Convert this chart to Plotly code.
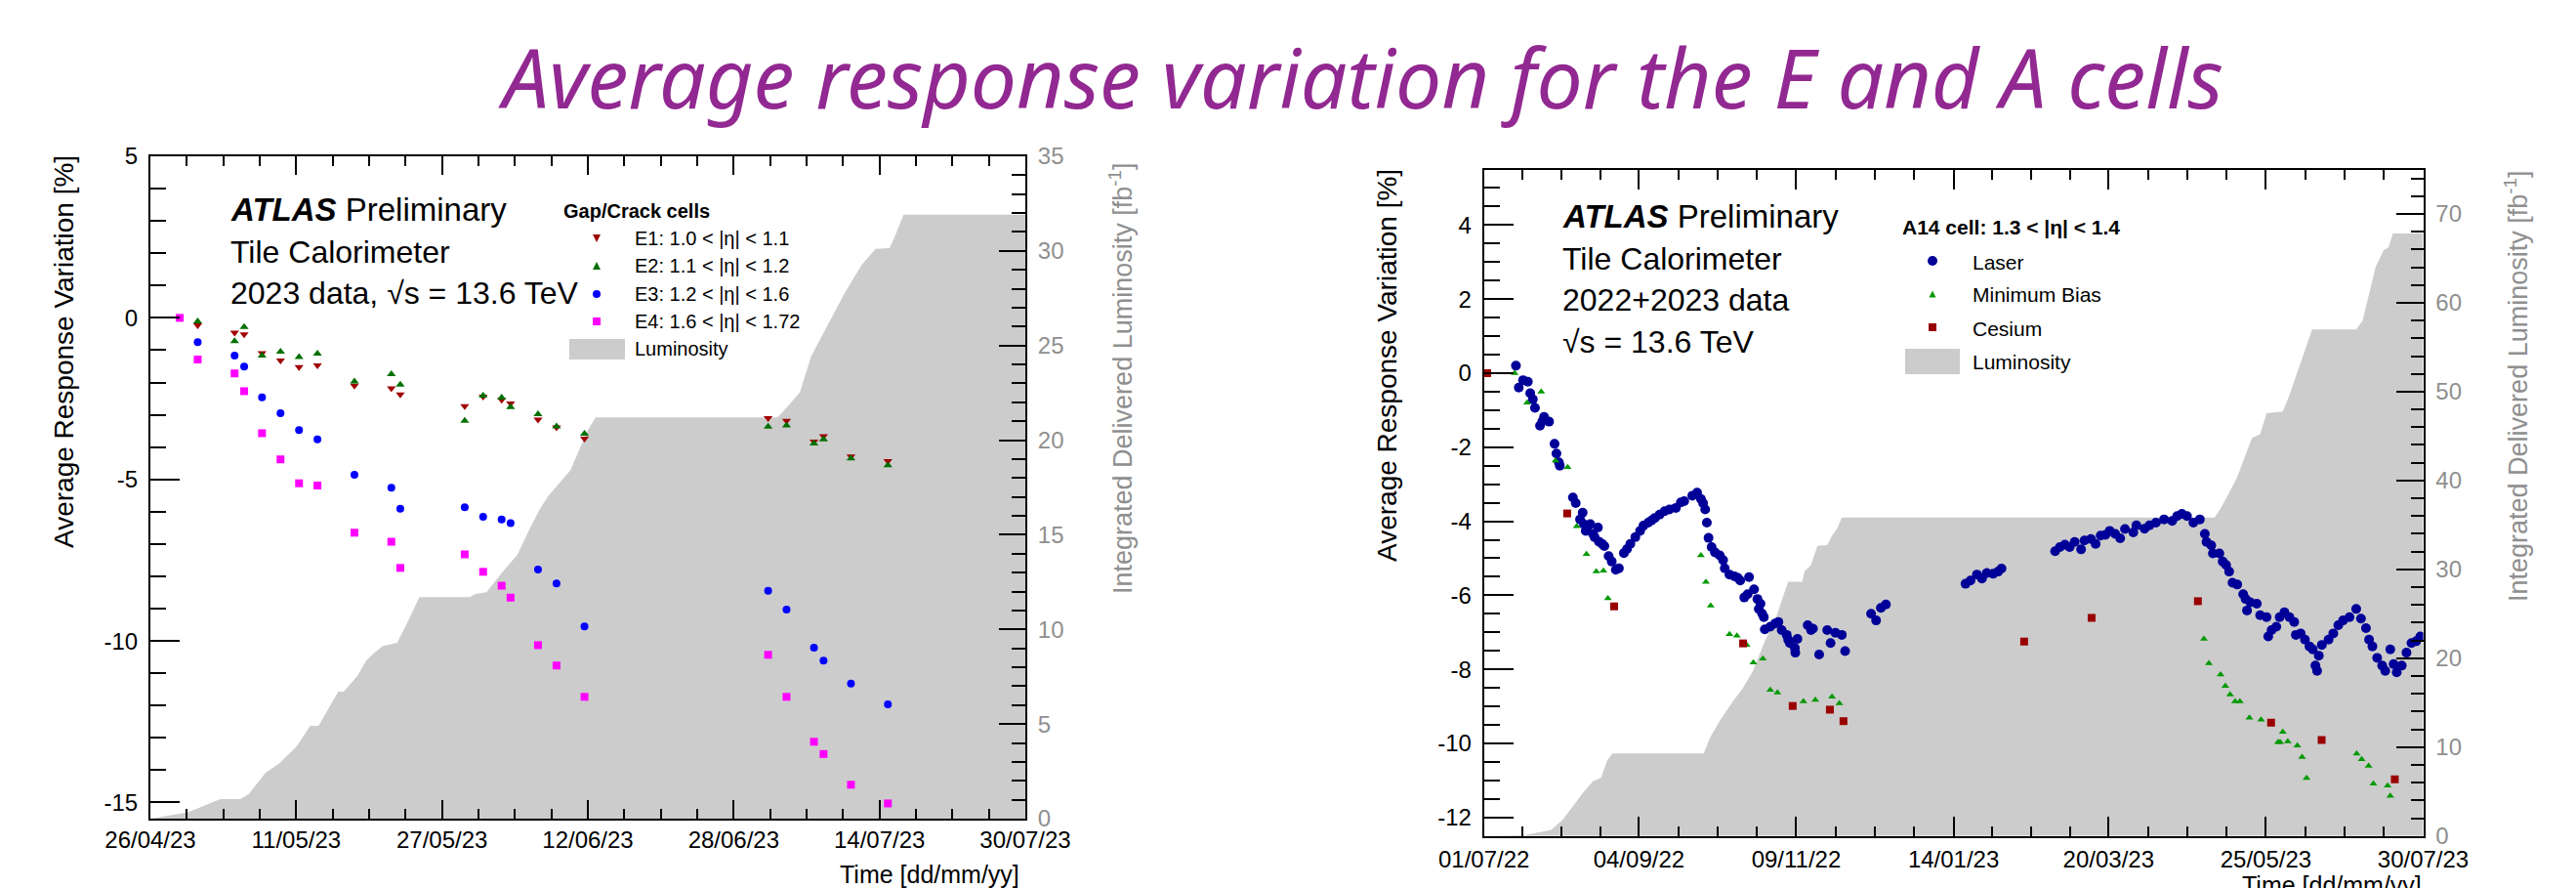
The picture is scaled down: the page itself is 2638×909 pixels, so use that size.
import plotly.graph_objects as go
import pandas as pd

W, H = 2638, 909
FONT = "Liberation Sans, Arial, Helvetica, sans-serif"
GREY = "#8f8f8f"

# ======================= LEFT PANEL DATA (E cells, 2023) =======================
# x: days since 2023-04-25 12:00 (left edge of the time axis)
left_t0 = "2023-04-25 12:00"
e_days = [5.19, 9.24, 10.29, 12.25, 14.28, 16.31, 18.33, 22.39, 26.44, 27.42,
          34.49, 36.51, 38.54, 39.52, 42.53, 44.56, 47.63, 67.78, 69.80, 72.81,
          73.86, 76.87, 80.92]
e1_resp = [-0.23, -0.46, -0.51, -1.09, -1.32, -1.52, -1.47, -2.10, -2.18, -2.37,
           -2.73, -2.44, -2.54, -2.65, -3.15, -3.39, -3.74, -3.10, -3.19, -3.83,
           -3.66, -4.29, -4.43]
e2_resp = [-0.11, -0.72, -0.28, -1.17, -1.05, -1.21, -1.11, -1.97, -1.74, -2.07,
           -3.19, -2.41, -2.47, -2.76, -2.98, -3.36, -3.59, -3.37, -3.33, -3.89,
           -3.76, -4.35, -4.56]
e3_resp = [-0.75, -1.17, -1.51, -2.46, -2.95, -3.47, -3.76, -4.86, -5.26, -5.91,
           -5.86, -6.16, -6.24, -6.35, -7.79, -8.22, -9.55, -8.45, -9.03, -10.21,
           -10.61, -11.32, -11.96]
e4_days = [3.22, 5.19, 9.24, 10.29, 12.25, 14.28, 16.31, 18.33, 22.39, 26.44,
           27.42, 34.49, 36.51, 38.54, 39.52, 42.53, 44.56, 47.63, 67.78, 69.80,
           72.81, 73.86, 76.87, 80.92]
e4_resp = [0.0, -1.29, -1.72, -2.27, -3.57, -4.38, -5.12, -5.19, -6.65, -6.93,
           -7.74, -7.32, -7.86, -8.29, -8.66, -10.13, -10.76, -11.73, -10.43, -11.73,
           -13.12, -13.50, -14.45, -15.03]
left_lumi_days = [0.0, 1.26, 4.15, 6.79, 7.71, 9.86, 10.78, 12.62, 14.16, 16.0,
                  17.54, 18.46, 19.38, 20.61, 21.22, 22.76, 23.68, 24.6, 25.52, 27.06,
                  27.98, 29.51, 35.04, 35.65, 36.88, 38.72, 40.26, 41.5, 42.72, 43.64,
                  46.1, 47.94, 48.86, 68.82, 70.05, 71.28, 72.51, 76.19, 78.04, 79.57,
                  81.11, 81.72, 82.64, 96.0]
left_lumi = [0.0, 0.1, 0.34, 0.86, 1.03, 1.03, 1.29, 2.41, 2.93, 3.79,
             4.9, 4.9, 5.68, 6.71, 6.71, 7.57, 8.35, 8.78, 9.12, 9.29,
             10.15, 11.7, 11.7, 11.87, 11.96, 13.08, 13.94, 15.2, 16.35, 17.04,
             18.41, 20.48, 21.2, 21.2, 21.85, 22.54, 24.44, 27.79, 29.26, 30.11,
             30.15, 30.8, 31.92, 31.92]
left_tick_labels = ["26/04/23", "11/05/23", "27/05/23", "12/06/23", "28/06/23", "14/07/23", "30/07/23"]
left_tick_days = [0, 16, 32, 48, 64, 80, 96]

# ======================= RIGHT PANEL DATA (A14 cell, 2022+2023) =======================
# x: days since 2022-07-01
right_t0 = "2022-07-01"
laser_days = [13.4, 14.6, 16.4, 18.4, 19.4, 20.5, 21.4, 23.5, 24.5, 25.2,
              27.3, 29.6, 30.4, 31.4, 31.8, 37.3, 38.5, 40.3, 41.4, 41.9,
              42.7, 43.7, 44.6, 45.7, 46.4, 47.8, 48.2, 49.6, 50.5, 52.3,
              53.6, 55.3, 56.6, 58.7, 60.0, 61.4, 63.5, 65.5, 66.9, 68.9,
              70.3, 71.7, 73.7, 75.8, 77.8, 80.5, 82.6, 84.0, 87.4, 89.4,
              91.0, 91.9, 92.8, 93.5, 94.2, 95.5, 96.9, 98.9, 100.3, 101.0,
              103.0, 105.1, 106.5, 107.5, 109.2, 110.6, 111.2, 113.3, 114.7, 115.3,
              116.0, 116.7, 117.4, 117.8, 120.1, 122.2, 123.5, 124.9, 127.0, 127.6,
              128.3, 130.4, 130.6, 131.5, 135.8, 137.2, 138.0, 140.6, 144.0, 145.4,
              147.4, 150.1, 151.5, 162.4, 164.5, 166.5, 168.6, 202.0, 204.1, 206.8,
              208.9, 210.9, 213.6, 215.7, 217.1, 239.6, 241.6, 243.7, 245.7, 247.8,
              250.5, 251.9, 254.6, 256.6, 258.7, 260.7, 262.5, 264.8, 266.9, 268.9,
              272.4, 273.7, 277.1, 279.2, 281.9, 285.3, 288.7, 290.8, 292.8, 294.9,
              297.6, 300.3, 302.4, 303.1, 305.1, 305.8, 308.5, 309.9, 311.3, 312.6,
              314.0, 316.0, 318.5, 319.5, 320.1, 321.5, 324.2, 325.6, 328.3, 329.0,
              330.4, 332.4, 333.8, 335.8, 337.9, 339.9, 340.6, 342.6, 344.4, 346.3,
              347.7, 348.8, 349.5, 350.2, 351.5, 354.3, 356.3, 358.4, 360.4, 363.1,
              365.9, 367.9, 370.0, 371.3, 372.7, 374.7, 376.8, 378.1, 380.2, 381.6,
              382.9, 385.0, 387.0, 389.1, 391.1, 392.8]
laser_resp = [0.20, -0.39, -0.19, -0.23, -0.54, -0.71, -0.94, -1.42, -1.30, -1.18,
              -1.31, -1.91, -2.17, -2.41, -2.50, -3.36, -3.51, -3.95, -3.77, -4.08,
              -4.26, -4.12, -4.08, -4.34, -4.43, -4.17, -4.55, -4.61, -4.67, -4.94,
              -5.09, -5.31, -5.27, -4.86, -4.75, -4.61, -4.43, -4.26, -4.12, -4.04,
              -3.98, -3.91, -3.82, -3.73, -3.68, -3.64, -3.49, -3.46, -3.31, -3.23,
              -3.40, -3.51, -3.68, -4.04, -4.45, -4.70, -4.84, -4.92, -5.05, -5.27,
              -5.44, -5.49, -5.53, -5.60, -6.06, -5.97, -5.51, -5.84, -6.10, -6.37,
              -6.23, -6.50, -6.59, -6.92, -6.85, -6.76, -6.72, -6.94, -7.07, -7.20,
              -7.29, -7.42, -7.55, -7.18, -6.81, -6.94, -6.90, -7.60, -6.94, -7.29,
              -7.01, -7.07, -7.51, -6.50, -6.68, -6.34, -6.25, -5.69, -5.60, -5.44,
              -5.55, -5.40, -5.42, -5.36, -5.28, -4.81, -4.70, -4.63, -4.70, -4.56,
              -4.76, -4.52, -4.48, -4.61, -4.39, -4.37, -4.26, -4.34, -4.46, -4.21,
              -4.30, -4.11, -4.20, -4.11, -4.04, -3.95, -3.99, -3.86, -3.80, -3.86,
              -4.04, -3.95, -4.34, -4.56, -4.65, -4.87, -4.87, -5.09, -5.18, -5.36,
              -5.66, -5.71, -5.97, -6.10, -6.41, -6.19, -6.23, -6.54, -6.59, -7.11,
              -6.94, -6.85, -6.59, -6.46, -6.59, -6.72, -7.07, -7.03, -7.20, -7.38,
              -7.46, -7.90, -8.04, -7.63, -7.34, -7.20, -7.03, -6.81, -6.68, -6.59,
              -6.37, -6.63, -6.89, -7.20, -7.38, -7.69, -7.90, -8.04, -7.46, -7.86,
              -8.08, -7.90, -7.55, -7.29, -7.24, -7.11]
minbias_days = [12.9, 18.1, 24.0, 30.0, 35.1, 38.9, 43.0, 47.1, 50.1, 52.0,
                91.0, 93.1, 95.1, 103.0, 106.1, 110.2, 113.0, 117.0, 120.1, 123.1,
                134.0, 139.0, 146.0, 149.1, 302.0, 304.1, 309.0, 311.0, 313.0, 315.1,
                317.1, 321.1, 326.0, 333.1, 334.0, 335.1, 337.2, 341.2, 343.2, 345.1,
                366.1, 368.2, 371.1, 373.1, 379.1, 380.2]
minbias_resp = [0.0, -0.80, -0.50, -2.36, -2.54, -4.14, -4.89, -5.36, -5.34, -6.08,
                -4.92, -5.64, -6.28, -7.05, -7.09, -7.34, -7.82, -7.71, -8.56, -8.63,
                -8.87, -8.83, -8.74, -8.92, -7.18, -7.84, -8.14, -8.45, -8.68, -8.87,
                -8.87, -9.31, -9.36, -9.97, -9.97, -9.69, -9.95, -10.06, -10.37, -10.94,
                -10.28, -10.43, -10.61, -11.09, -11.14, -11.42]
cesium_days = [1.35, 34.9, 54.6, 108.7, 129.5, 145.1, 150.8, 226.6, 254.9, 299.5,
               330.2, 351.4, 382.1]
cesium_resp = [0.0, -3.79, -6.30, -7.30, -8.99, -9.09, -9.40, -7.25, -6.61, -6.16,
               -9.44, -9.91, -10.97]
right_lumi_days = [0.0, 17.0, 28.0, 32.8, 37.5, 41.6, 45.7, 49.1, 51.8, 53.9,
                   92.2, 94.9, 98.9, 104.4, 108.5, 112.6, 118.1, 122.2, 124.9, 127.6,
                   133.5, 134.5, 137.2, 139.9, 144.0, 146.1, 148.1, 150.1, 306.5, 309.2,
                   313.3, 316.0, 318.8, 322.2, 325.6, 328.3, 335.1, 337.9, 342.6, 347.4,
                   365.9, 368.6, 370.6, 374.1, 377.4, 379.5, 381.3, 394.0]
right_lumi = [0.0, 0.1, 0.66, 1.76, 3.41, 4.88, 6.16, 6.53, 8.54, 9.28,
              9.28, 11.1, 12.94, 15.14, 16.6, 18.44, 22.1, 24.3, 26.5, 28.6,
              28.6, 29.8, 30.5, 32.65, 32.73, 33.83, 34.56, 35.84, 35.84, 36.94,
              38.96, 40.4, 42.4, 44.8, 45.2, 47.57, 47.76, 49.6, 53.25, 57.0,
              57.0, 58.0, 60.2, 64.06, 65.9, 66.26, 67.8, 67.8]
right_tick_labels = ["01/07/22", "04/09/22", "09/11/22", "14/01/23", "20/03/23", "25/05/23", "30/07/23"]
right_tick_dates = ["2022-07-01", "2022-09-04", "2022-11-09", "2023-01-14", "2023-03-20", "2023-05-25", "2023-07-30"]


def to_dates(t0, days):
    return pd.Timestamp(t0) + pd.to_timedelta(days, unit="D")


def minor_between(majors, n=3):
    out = []
    for a, b in zip(majors[:-1], majors[1:]):
        for k in range(1, n + 1):
            out.append(a + (b - a) * k / (n + 1))
    return out


left_major = list(to_dates(left_t0, left_tick_days))
left_minor = minor_between(left_major)
right_major = [pd.Timestamp(d) for d in right_tick_dates]
right_minor = minor_between(right_major)

fig = go.Figure()

# ---- luminosity fills (base axes, drawn beneath) ----
fig.add_trace(go.Scatter(x=to_dates(left_t0, left_lumi_days), y=left_lumi, mode="lines",
                         line=dict(width=0, color="#cccccc"), fill="tozeroy", fillcolor="#cccccc",
                         xaxis="x", yaxis="y", showlegend=False, hoverinfo="skip"))
fig.add_trace(go.Scatter(x=to_dates(right_t0, right_lumi_days), y=right_lumi, mode="lines",
                         line=dict(width=0, color="#cccccc"), fill="tozeroy", fillcolor="#cccccc",
                         xaxis="x2", yaxis="y3", showlegend=False, hoverinfo="skip"))

# ---- left markers ----
C_E1, C_E2, C_E3, C_E4 = "#a00000", "#007000", "#0000ff", "#ff00ff"
fig.add_trace(go.Scatter(x=to_dates(left_t0, e_days), y=e1_resp, mode="markers", xaxis="x", yaxis="y2",
                         marker=dict(symbol="triangle-down", size=8, color=C_E1), showlegend=False))
fig.add_trace(go.Scatter(x=to_dates(left_t0, e_days), y=e2_resp, mode="markers", xaxis="x", yaxis="y2",
                         marker=dict(symbol="triangle-up", size=8, color=C_E2), showlegend=False))
fig.add_trace(go.Scatter(x=to_dates(left_t0, e_days), y=e3_resp, mode="markers", xaxis="x", yaxis="y2",
                         marker=dict(symbol="circle", size=8, color=C_E3), showlegend=False))
fig.add_trace(go.Scatter(x=to_dates(left_t0, e4_days), y=e4_resp, mode="markers", xaxis="x", yaxis="y2",
                         marker=dict(symbol="square", size=8, color=C_E4), showlegend=False))

# ---- right markers ----
C_LAS, C_MB, C_CS = "#000099", "#009900", "#990000"
fig.add_trace(go.Scatter(x=to_dates(right_t0, laser_days), y=laser_resp, mode="markers", xaxis="x2", yaxis="y4",
                         marker=dict(symbol="circle", size=10, color=C_LAS), showlegend=False))
fig.add_trace(go.Scatter(x=to_dates(right_t0, minbias_days), y=minbias_resp, mode="markers", xaxis="x2", yaxis="y4",
                         marker=dict(symbol="triangle-up", size=7, color=C_MB), showlegend=False))
fig.add_trace(go.Scatter(x=to_dates(right_t0, cesium_days), y=cesium_resp, mode="markers", xaxis="x2", yaxis="y4",
                         marker=dict(symbol="square", size=8, color=C_CS), showlegend=False))


def px(X):
    return X / W


def py(Y):
    return 1 - Y / H


base = dict(showline=True, linecolor="black", linewidth=2, ticks="inside", tickcolor="black",
            tickwidth=1.5, showgrid=False, zeroline=False, fixedrange=True, automargin=False)


def minor(ticklen, **kw):
    d = dict(ticks="inside", ticklen=ticklen, tickcolor="black", tickwidth=1.5, showgrid=False)
    d.update(kw)
    return d


tickfont_black = dict(family=FONT, size=24, color="black")
tickfont_grey = dict(family=FONT, size=24, color=GREY)

layout = dict(
    width=W, height=H, autosize=False, margin=dict(l=0, r=0, t=0, b=0, pad=0),
    paper_bgcolor="white", plot_bgcolor="rgba(0,0,0,0)", showlegend=False,
    # left panel
    xaxis=dict(base, domain=[px(146), px(1042)], anchor="y", type="date",
               range=[left_major[0], left_major[-1]], tickmode="array",
               tickvals=left_major, ticktext=left_tick_labels, ticklen=19, mirror="ticks",
               minor=minor(10, tickmode="array", tickvals=left_minor),
               tickfont=tickfont_black, ticklabelstandoff=-1),
    yaxis=dict(base, domain=[py(830), py(152)], anchor="x", side="right", range=[0, 35],
               tickmode="array", tickvals=[0, 5, 10, 15, 20, 25, 30, 35],
               ticktext=["0", "5", "10", "15", "20", "25", "30", "35"], ticklen=27,
               minor=minor(14, tickmode="linear", tick0=0, dtick=1), tickfont=tickfont_grey,
               ticklabelstandoff=6),
    yaxis2=dict(base, overlaying="y", anchor="x", side="left", range=[-15.5, 5],
                tickmode="array", tickvals=[-15, -10, -5, 0, 5],
                ticktext=["-15", "-10", "-5", "0", "5"], ticklen=30,
                minor=minor(16, tickmode="linear", tick0=0, dtick=1), tickfont=tickfont_black,
                ticklabelstandoff=6),
    # right panel
    xaxis2=dict(base, domain=[px(1511.7), px(2473.5)], anchor="y3", type="date",
                range=[right_major[0], right_major[-1]], tickmode="array",
                tickvals=right_major, ticktext=right_tick_labels, ticklen=20, mirror="ticks",
                minor=minor(10, tickmode="array", tickvals=right_minor),
                tickfont=tickfont_black, ticklabelstandoff=1),
    yaxis3=dict(base, domain=[py(847.7), py(165.5)], anchor="x2", side="right", range=[0, 75],
                tickmode="array", tickvals=[0, 10, 20, 30, 40, 50, 60, 70],
                ticktext=["0", "10", "20", "30", "40", "50", "60", "70"], ticklen=28,
                minor=minor(13, tickmode="linear", tick0=0, dtick=2), tickfont=tickfont_grey,
                ticklabelstandoff=6),
    yaxis4=dict(base, overlaying="y3", anchor="x2", side="left", range=[-12.5, 5.5],
                tickmode="array", tickvals=[-12, -10, -8, -6, -4, -2, 0, 2, 4],
                ticktext=["-12", "-10", "-8", "-6", "-4", "-2", "0", "2", "4"], ticklen=30,
                minor=minor(16, tickmode="linear", tick0=0, dtick=0.5), tickfont=tickfont_black,
                ticklabelstandoff=6),
)
fig.update_layout(**layout)

ann = []


def text(X, Y, s, size, color="black", xanchor="left", angle=0, family=FONT, **fontkw):
    f = dict(family=family, size=size, color=color)
    f.update(fontkw)
    ann.append(dict(x=px(X), y=py(Y), xref="paper", yref="paper", text=s, showarrow=False,
                    xanchor=xanchor, yanchor="middle", textangle=angle, font=f))


# title
text(1385, 70, "Average response variation for the E and A cells", 84, color="#922891",
     xanchor="center", family="Noto Sans", style="italic")

# ATLAS labels
text(226, 207, "<b><i>ATLAS</i></b> Preliminary", 33)
text(226, 250, "Tile Calorimeter", 32)
text(226, 292, "2023 data, √s = 13.6 TeV", 32)
text(1590, 213, "<b><i>ATLAS</i></b> Preliminary", 33)
text(1590, 257, "Tile Calorimeter", 32)
text(1590, 299, "2022+2023 data", 32)
text(1590, 342, "√s = 13.6 TeV", 32)

# axis titles
text(57, 352, "Average Response Variation [%]", 28, xanchor="center", angle=-90)
text(1140, 379, "Integrated Delivered Luminosity [fb<sup>-1</sup>]", 27, color=GREY, xanchor="center", angle=-90)
text(1038, 887, "Time [dd/mm/yy]", 25, xanchor="right")
text(1412, 366, "Average Response Variation [%]", 28, xanchor="center", angle=-90)
text(2569, 387, "Integrated Delivered Luminosity [fb<sup>-1</sup>]", 27, color=GREY, xanchor="center", angle=-90)
text(2474, 898, "Time [dd/mm/yy]", 25, xanchor="right")

# legends text
text(567, 208, "<b>Gap/Crack cells</b>", 20)
text(640, 236, "E1: 1.0 < |η| < 1.1", 20)
text(640, 264, "E2: 1.1 < |η| < 1.2", 20)
text(640, 293, "E3: 1.2 < |η| < 1.6", 20)
text(640, 321, "E4: 1.6 < |η| < 1.72", 20)
text(640, 349, "Luminosity", 20)
text(1938, 224, "<b>A14 cell: 1.3 < |η| < 1.4</b>", 21)
text(2010, 260, "Laser", 21)
text(2010, 294, "Minimum Bias", 21)
text(2010, 328, "Cesium", 21)
text(2010, 362, "Luminosity", 21)

fig.update_layout(annotations=ann)

# legend glyphs (decorations in pixel space)
shapes = []


def glyph(kind, X, Y, size, color):
    r = size / 2
    if kind == "circle":
        shapes.append(dict(type="circle", xref="paper", yref="paper", x0=px(X - r), x1=px(X + r),
                           y0=py(Y + r), y1=py(Y - r), fillcolor=color, line=dict(width=0)))
    elif kind == "square":
        shapes.append(dict(type="rect", xref="paper", yref="paper", x0=px(X - r), x1=px(X + r),
                           y0=py(Y + r), y1=py(Y - r), fillcolor=color, line=dict(width=0)))
    elif kind == "up":
        shapes.append(dict(type="path", xref="paper", yref="paper",
                           path=f"M {px(X - r)},{py(Y + r)} L {px(X + r)},{py(Y + r)} L {px(X)},{py(Y - r)} Z",
                           fillcolor=color, line=dict(width=0)))
    elif kind == "down":
        shapes.append(dict(type="path", xref="paper", yref="paper",
                           path=f"M {px(X - r)},{py(Y - r)} L {px(X + r)},{py(Y - r)} L {px(X)},{py(Y + r)} Z",
                           fillcolor=color, line=dict(width=0)))


def box(X0, X1, Y0, Y1):
    shapes.append(dict(type="rect", xref="paper", yref="paper", x0=px(X0), x1=px(X1),
                       y0=py(Y1), y1=py(Y0), fillcolor="#cccccc", line=dict(width=0)))


glyph("down", 603, 236, 8, C_E1)
glyph("up", 603, 264, 8, C_E2)
glyph("circle", 603, 293, 8, C_E3)
glyph("square", 603, 321, 8, C_E4)
box(575, 632, 339, 360)
glyph("circle", 1971, 259, 10, C_LAS)
glyph("up", 1971, 293, 7, C_MB)
glyph("square", 1971, 327, 8, C_CS)
box(1943, 1999, 349, 375)

fig.update_layout(shapes=shapes)

fig.write_html("out.html")
